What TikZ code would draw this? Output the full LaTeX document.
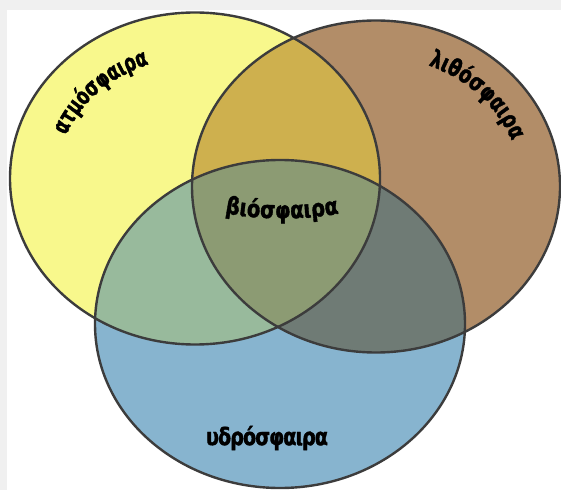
\documentclass[tikz,border=0pt]{standalone}
\usepackage{fontspec}
\newfontfamily\grfont{DejaVu Sans}[FakeStretch=0.8, FakeBold=1.5, LetterSpace=-4]
\newfontfamily\grtight{DejaVu Sans}[FakeStretch=0.69, FakeBold=1.6]
\newfontfamily\grmid{DejaVu Sans}[FakeStretch=0.75, FakeBold=1.6]
\newfontfamily\grbio{DejaVu Sans}[FakeStretch=0.82, FakeBold=1.6]
\usetikzlibrary{decorations.text}
\definecolor{cY}{RGB}{248,248,140}
\definecolor{cB}{RGB}{178,141,104}
\definecolor{cW}{RGB}{135,180,207}
\definecolor{cYB}{RGB}{206,176,78}
\definecolor{cYW}{RGB}{152,186,156}
\definecolor{cBW}{RGB}{111,123,117}
\definecolor{cAll}{RGB}{140,155,115}
\definecolor{cEdge}{RGB}{60,60,60}
\definecolor{cFrame}{RGB}{240,240,240}
\tikzset{
  rim/.style={draw=cEdge, line width=2.4pt},
  lbl/.style={font=\grfont\bfseries\fontsize{24}{24}\selectfont, text=black},
  curvelbl/.style 2 args={decorate, decoration={text along path, text align=center,
     text={|#1\bfseries\fontsize{24}{24}\selectfont|#2}}}
}
\def\EY{(195,311.5) ellipse [x radius=185, y radius=166]}
\def\EB{(376,303.5) ellipse [x radius=184, y radius=166]}
\def\EW{(280,166) ellipse [x radius=185, y radius=164]}
\begin{document}
\begin{tikzpicture}[x=1pt,y=1pt]
\useasboundingbox (0,0) rectangle (561,490);
\fill[cFrame] (0,0) rectangle (561,490);
\fill[white] (7,0) rectangle (561,480);
\fill[cY] \EY;
\fill[cB] \EB;
\fill[cW] \EW;
\begin{scope}
  \clip \EB;
  \fill[cBW] \EW;
\end{scope}
\begin{scope}
  \clip \EY;
  \fill[cYB] \EB;
  \fill[cYW] \EW;
  \clip \EB;
  \fill[cAll] \EW;
\end{scope}
\draw[rim] \EY;
\draw[rim] \EB;
\draw[rim] \EW;
% curved labels
\path[curvelbl={\grtight}{ατμόσφαιρα}] (195,311.5) ++(172:138 and 121) arc[start angle=172, end angle=98, x radius=138, y radius=121];
\path[curvelbl={\grmid}{λιθόσφαιρα}] (376,303.5) ++(82:145 and 130) arc[start angle=82, end angle=6, x radius=145, y radius=130];
\path[curvelbl={\grbio}{βιόσφαιρα}] (212,280) .. controls (252,269) and (308,269) .. (352,279);
\node[lbl] (hydro) at (267,52) {υδρόσφαιρα};
\end{tikzpicture}
\end{document}
